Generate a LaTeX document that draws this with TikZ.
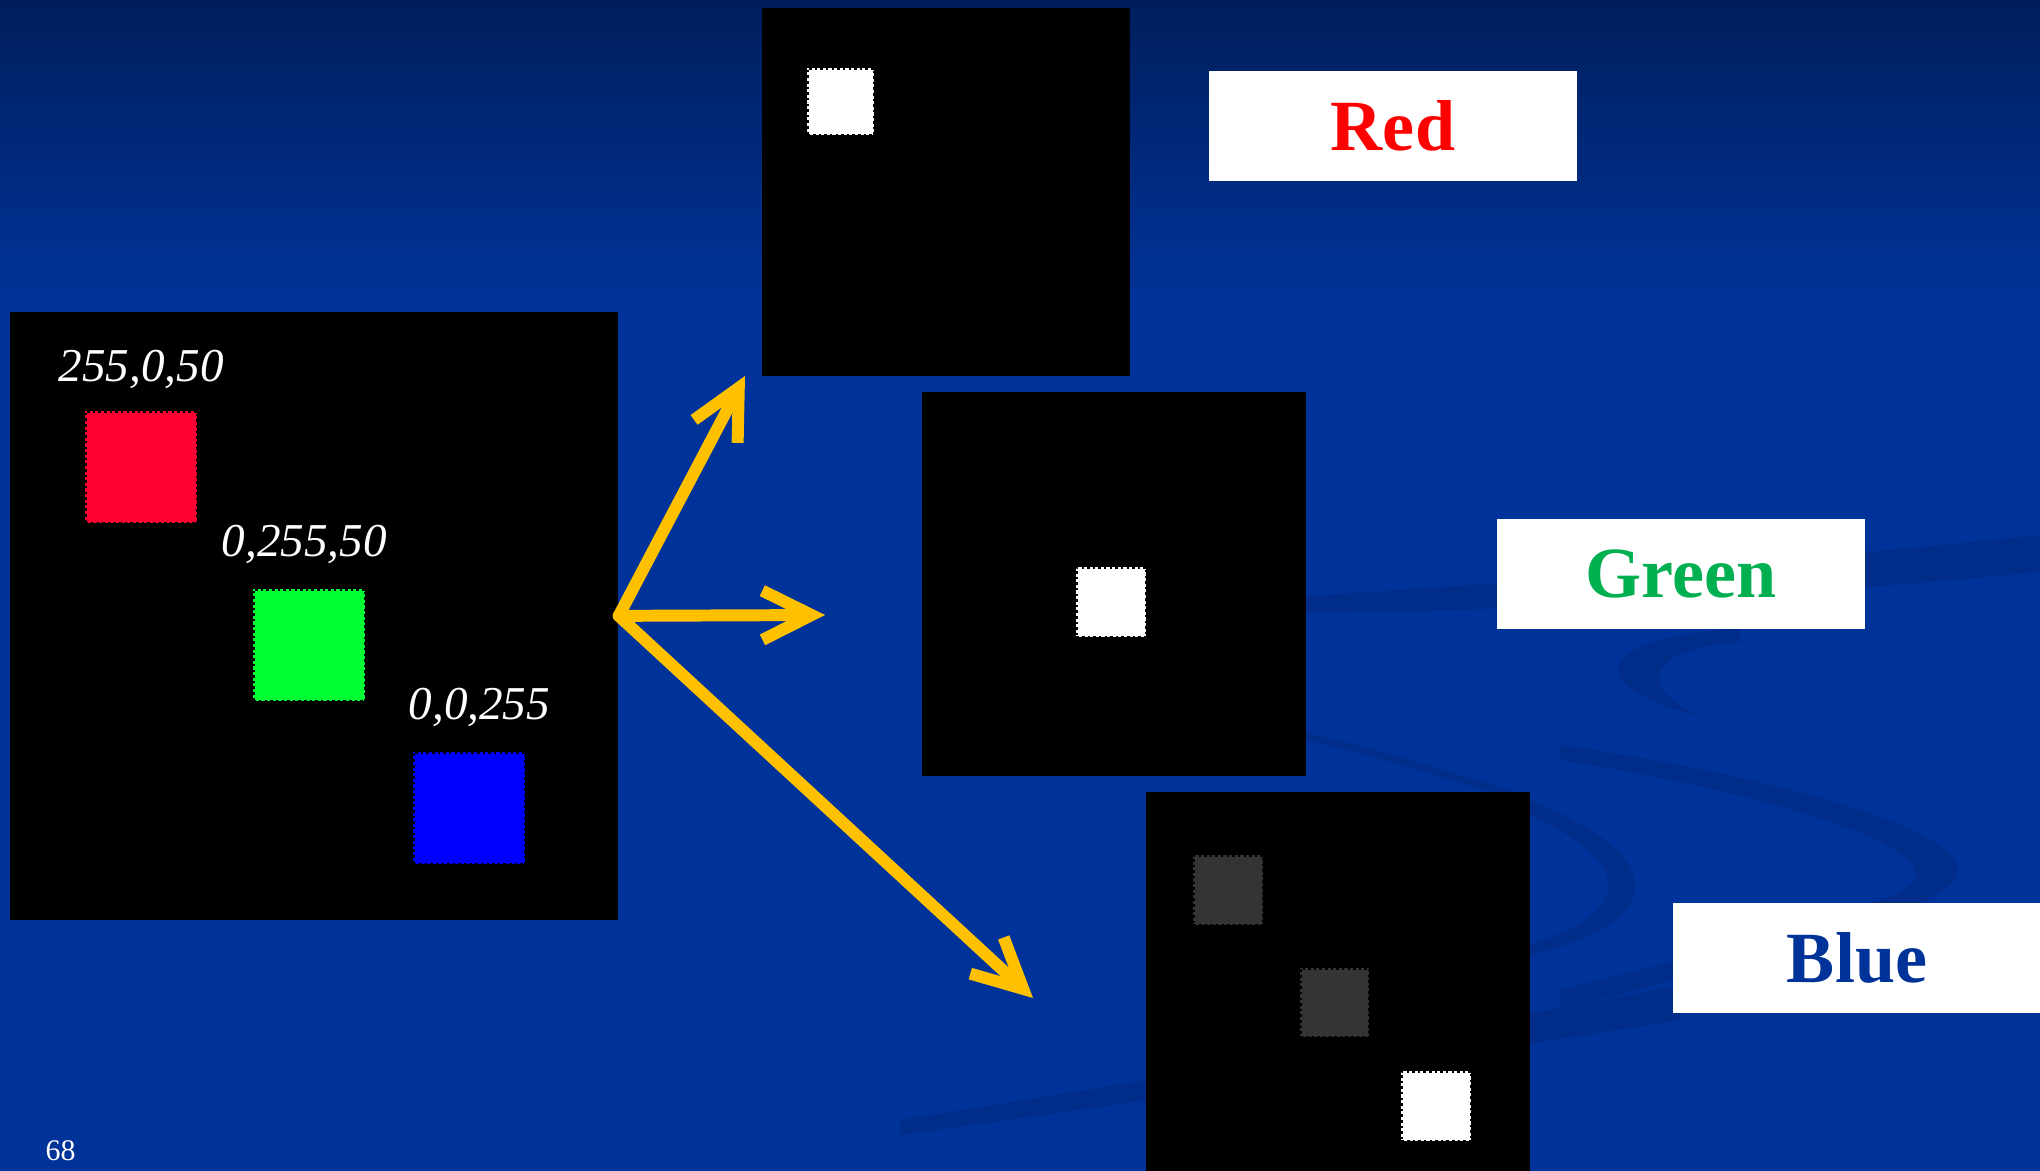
\documentclass[tikz,border=0pt]{standalone}
\usepackage{fontspec}
\setmainfont{Liberation Serif}
\usetikzlibrary{arrows.meta,positioning}

\definecolor{slidetop}{RGB}{0,30,92}
\definecolor{slideblue}{RGB}{0,51,153}
\definecolor{swoosh}{RGB}{0,44,138}
\definecolor{arrowgold}{RGB}{255,192,0}
\definecolor{chanred}{RGB}{255,0,50}
\definecolor{changreen}{RGB}{0,255,50}
\definecolor{chanblue}{RGB}{0,0,255}
\definecolor{tagred}{RGB}{255,0,0}
\definecolor{taggreen}{RGB}{0,176,80}
\definecolor{tagblue}{RGB}{0,51,153}
\definecolor{dimgray}{RGB}{52,52,52}

\begin{document}
\begin{tikzpicture}[
  x=0.01cm, y=-0.01cm,
  imgbox/.style={fill=black, inner sep=0pt, anchor=north west},
  patch/.style={inner sep=0pt, anchor=north west, draw=black, line width=0.8pt,
                dash pattern=on 0.7pt off 0.9pt},
  rgbval/.style={text=white, anchor=base west, inner sep=0pt,
                 font=\itshape\fontsize{13.4}{16}\selectfont},
  chantag/.style={fill=white, minimum width=3.68cm, minimum height=1.1cm, inner sep=0pt,
                  font=\bfseries\fontsize{20.5}{24}\selectfont},
  split/.style={draw=arrowgold, line width=3.4pt, line cap=round,
                -{Straight Barb[length=14pt, width=14pt, line join=miter]}},
  swooshfill/.style={fill=swoosh},
]
  \useasboundingbox (0,0) rectangle (2040,1171);
  % slide background
  \fill[top color=slidetop, bottom color=slideblue] (0,0) rectangle (2040,300);
  \fill[slideblue] (0,299) rectangle (2040,1171);
  \fill[swooshfill] (1240,600) .. controls (1500,585) and (1800,560) .. (2040,535)
    -- (2040,572) .. controls (1800,595) and (1500,615) .. (1240,612) -- cycle;
  \fill[swooshfill] (1740,628) .. controls (1580,640) and (1590,690) .. (1700,716)
    .. controls (1640,690) and (1640,650) .. (1740,642) -- cycle;
  \fill[swooshfill] (1560,745) .. controls (1800,780) and (2000,840) .. (1950,885)
    .. controls (1910,920) and (1750,960) .. (1560,1010)
    -- (1560,990) .. controls (1740,945) and (1900,905) .. (1915,880)
    .. controls (1930,845) and (1780,795) .. (1560,760) -- cycle;
  \fill[swooshfill] (1529,800) .. controls (1660,850) and (1680,920) .. (1529,955)
    -- (1529,945) .. controls (1640,910) and (1630,860) .. (1529,815) -- cycle;
  \fill[swooshfill] (1680,985) .. controls (1400,1040) and (1150,1080) .. (900,1120)
    -- (900,1135) .. controls (1150,1100) and (1400,1065) .. (1680,1020) -- cycle;
  \draw[swoosh, line width=2pt] (1200,715) .. controls (1350,745) .. (1529,800);

  % source image
  \node[imgbox, minimum size=6.08cm] (src) at (9,311) {};
  \node[patch, fill=chanred,   minimum size=1.12cm] (pred)   at (84,410) {};
  \node[patch, fill=changreen, minimum size=1.12cm] (pgreen) at (252,588) {};
  \node[patch, fill=chanblue,  minimum size=1.12cm] (pblue)  at (412,751) {};
  \node[rgbval] (vred)   at (58,382)  {255,0,50};
  \node[rgbval] (vgreen) at (221,557) {0,255,50};
  \node[rgbval] (vblue)  at (408,720) {0,0,255};

  % channel images
  \node[imgbox, minimum size=3.68cm] (imgr) at (761,7) {};
  \node[patch, fill=white, minimum size=0.67cm] (rr) at (806,67) {};
  \node[imgbox, minimum size=3.84cm] (imgg) at (921,391) {};
  \node[patch, fill=white, minimum size=0.70cm] (gg) at (1075,566) {};
  \node[imgbox, minimum size=3.84cm] (imgb) at (1145,791) {};
  \node[patch, fill=dimgray, minimum size=0.70cm] (br) at (1192,854) {};
  \node[patch, fill=dimgray, minimum size=0.69cm] (bg) at (1299,967) {};
  \node[patch, fill=white,   minimum size=0.70cm] (bb) at (1400,1070) {};

  % channel names
  \node[chantag, text=tagred]   (tr) at (1393,126)  {Red};
  \node[chantag, text=taggreen] (tg) at (1681,574)  {Green};
  \node[chantag, text=tagblue]  (tb) at (1857,958)  {Blue};

  % split arrows
  \coordinate (tipr) at (745,376);
  \coordinate (tipg) at (825,615);
  \coordinate (tipb) at (1033,998);
  \draw[split] (src.east) -- (tipr);
  \draw[split] (src.east) -- (tipg);
  \draw[split] (src.east) -- (tipb);

  \node[text=white, anchor=base west, inner sep=0pt, font=\fontsize{8.5}{10}\selectfont]
    (pageno) at (45,1160) {68};
\end{tikzpicture}
\end{document}
